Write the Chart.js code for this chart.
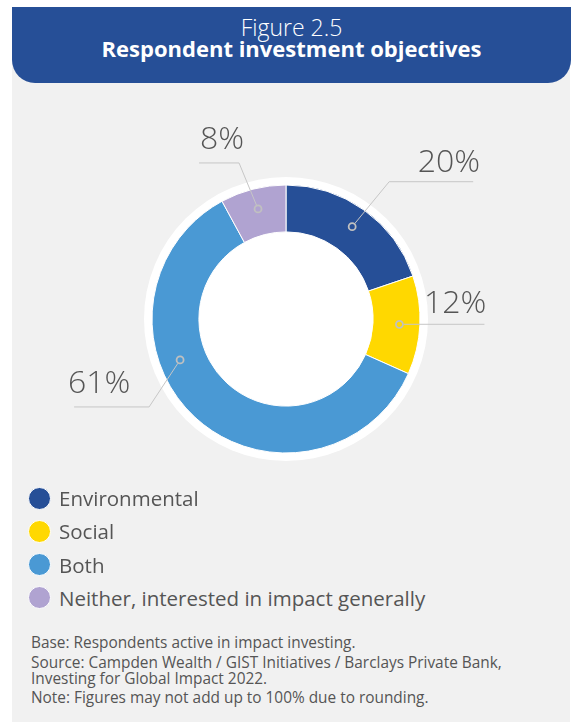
<!DOCTYPE html>
<html>
<head>
<meta charset="utf-8">
<script src="https://cdn.jsdelivr.net/npm/chart.js@4"></script>
<style>
  html, body { margin: 0; padding: 0; background: #ffffff; }
  body { width: 573px; height: 723px; position: relative; overflow: hidden; font-family: "Open Sans", sans-serif; color: #555555; }
  .panel { position: absolute; left: 12px; top: 7px; width: 558px; height: 715px; background: #f1f1f1; }
  .header { position: absolute; left: 12px; top: 7px; width: 559px; height: 76px; background: #264f97; border-radius: 0 0 23px 23px; }
  .fig { position: absolute; left: 12px; width: 559px; text-align: center; color: #ffffff; white-space: nowrap; }
  .fig.num { top: 16px; font-size: 23px; line-height: 23px; font-weight: 300; }
  .fig.name { top: 36.5px; font-size: 22px; line-height: 22px; font-weight: 700; }
  #chartBox { position: absolute; left: 12px; top: 100px; width: 548px; height: 438px; }
  .legend-row { position: absolute; left: 28px; height: 32px; display: flex; align-items: center; white-space: nowrap; }
  .legend-dot { width: 23px; height: 23px; border-radius: 50%; box-sizing: border-box; border: 1.5px solid #ffffff; margin-right: 8px; }
  .legend-text { font-size: 20.5px; line-height: 32px; font-weight: 400; color: #555555; }
  .note { position: absolute; left: 31px; font-size: 15.4px; line-height: 20px; color: #555555; white-space: nowrap; }
</style>
</head>
<body>
<div class="panel"></div>
<div class="header"></div>
<div class="fig num">Figure 2.5</div>
<div class="fig name">Respondent investment objectives</div>
<div id="chartBox"><canvas id="chart" width="548" height="438"></canvas></div>
<div id="legend"></div>
<div class="note" style="top:633px">Base: Respondents active in impact investing.</div>
<div class="note" style="top:653px">Source: Campden Wealth / GIST Initiatives / Barclays Private Bank,</div>
<div class="note" style="top:669px">Investing for Global Impact 2022.</div>
<div class="note" style="top:688px">Note: Figures may not add up to 100% due to rounding.</div>
<script>
// Investment objectives of respondents (share, %)
const categories = ["Environmental", "Social", "Both", "Neither, interested in impact generally"];
const shares = [20, 12, 61, 8];
const sliceColors = ["#264f97", "#ffd800", "#4a99d4", "#b0a3d1"];

// Leader-line layout for each slice label: where the dot sits along the slice,
// the elbow offset from the dot, the horizontal run and where the text goes.
const leaderLayout = [
  { frac: 0.5,  elbow: [37, -45],  run: 84, dir: 1,  align: "right", tx: 7,  ty: -10 },
  { frac: 0.5,  elbow: [0, 0],     run: 85, dir: 1,  align: "right", tx: 2,  ty: -11 },
  { frac: 0.62, elbow: [-31, 47],  run: 75, dir: -1, align: "left",  tx: -6, ty: -14 },
  { frac: 0.5,  elbow: [-19, -46], run: 40, dir: -1, align: "left",  tx: 1,  ty: -14 }
];

// White halo behind the ring and white hole
const haloPlugin = {
  id: "halo",
  beforeDatasetsDraw(chart) {
    const arc = chart.getDatasetMeta(0).data[0];
    if (!arc) return;
    const { x, y, outerRadius } = arc.getProps(["x", "y", "outerRadius"], true);
    const ctx = chart.ctx;
    ctx.save();
    ctx.beginPath();
    ctx.arc(x, y, outerRadius + 8, 0, Math.PI * 2);
    ctx.fillStyle = "#ffffff";
    ctx.fill();
    ctx.restore();
  }
};

// Percentage labels joined to their slices by leader lines
const leaderPlugin = {
  id: "leaders",
  afterDatasetsDraw(chart) {
    const ctx = chart.ctx;
    const meta = chart.getDatasetMeta(0);
    meta.data.forEach((arc, i) => {
      const p = arc.getProps(["x", "y", "startAngle", "endAngle", "innerRadius", "outerRadius"], true);
      const L = leaderLayout[i];
      const a = p.startAngle + L.frac * (p.endAngle - p.startAngle);
      const r = (p.innerRadius + p.outerRadius) / 2 + 3;
      const dx = p.x + Math.cos(a) * r;
      const dy = p.y + Math.sin(a) * r;
      const ex = dx + L.elbow[0];
      const ey = dy + L.elbow[1];
      const endX = ex + L.dir * L.run;
      ctx.save();
      ctx.strokeStyle = "#c6c6c6";
      ctx.lineWidth = 1;
      ctx.beginPath();
      const startOff = 4;
      const len = Math.hypot(L.elbow[0], L.elbow[1]);
      if (len > 0) {
        ctx.moveTo(dx + L.elbow[0] / len * startOff, dy + L.elbow[1] / len * startOff);
        ctx.lineTo(ex, ey);
      } else {
        ctx.moveTo(dx + L.dir * startOff, dy);
      }
      ctx.lineTo(endX, ey);
      ctx.stroke();
      ctx.beginPath();
      ctx.arc(dx, dy, 3.5, 0, Math.PI * 2);
      ctx.lineWidth = 1.8;
      ctx.strokeStyle = "#c0c0c0";
      ctx.stroke();
      ctx.fillStyle = "#555555";
      ctx.font = "300 32px 'Open Sans'";
      ctx.textAlign = L.align;
      ctx.textBaseline = "alphabetic";
      ctx.fillText(shares[i] + "%", endX + L.tx, ey + L.ty);
      ctx.restore();
    });
  }
};

new Chart(document.getElementById("chart"), {
  type: "doughnut",
  data: {
    labels: categories,
    datasets: [{
      data: shares,
      backgroundColor: sliceColors,
      borderColor: "#ffffff",
      borderWidth: 1,
      hoverOffset: 0
    }]
  },
  options: {
    responsive: false,
    animation: false,
    radius: 134,
    cutout: "65%",
    layout: { padding: 0 },
    plugins: {
      legend: { display: false },
      tooltip: { enabled: false }
    }
  },
  plugins: [haloPlugin, leaderPlugin]
});

// Legend, one entry per row
const legendEl = document.getElementById("legend");
categories.forEach((name, i) => {
  const row = document.createElement("div");
  row.className = "legend-row";
  row.style.top = (482 + i * 33.3) + "px";
  const dot = document.createElement("div");
  dot.className = "legend-dot";
  dot.style.background = sliceColors[i];
  const txt = document.createElement("div");
  txt.className = "legend-text";
  txt.textContent = name;
  row.appendChild(dot);
  row.appendChild(txt);
  legendEl.appendChild(row);
});
</script>
</body>
</html>
